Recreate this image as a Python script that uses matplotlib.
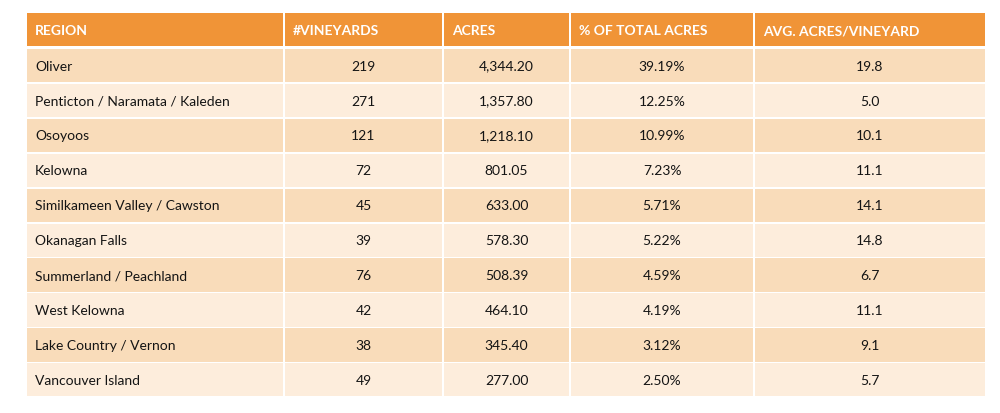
import matplotlib.pyplot as plt
from matplotlib.patches import Rectangle

# table content
columns = ['REGION', '#VINEYARDS', 'ACRES', '% OF TOTAL ACRES', 'AVG. ACRES/VINEYARD']
regions = ['Oliver', 'Penticton / Naramata / Kaleden', 'Osoyoos', 'Kelowna',
           'Similkameen Valley / Cawston', 'Okanagan Falls', 'Summerland / Peachland',
           'West Kelowna', 'Lake Country / Vernon', 'Vancouver Island']
vineyards = [219, 271, 121, 72, 45, 39, 76, 42, 38, 49]
acres = [4344.20, 1357.80, 1218.10, 801.05, 633.00, 578.30, 508.39, 464.10, 345.40, 277.00]
pct_total = [39.19, 12.25, 10.99, 7.23, 5.71, 5.22, 4.59, 4.19, 3.12, 2.50]
avg_acres = [19.8, 5.0, 10.1, 11.1, 14.1, 14.8, 6.7, 11.1, 9.1, 5.7]

# layout in pixels
col_edges = [27, 284, 443, 570, 754, 985]
gap = 1.8
head_top, head_bot = 13, 45.5
row_top0, row_pitch, row_gap = 49, 34.9, 1.6

orange = '#F09437'
row_colors = ['#F9DCBA', '#FDEDDC']
txt_color = '#141414'

plt.rcParams['font.family'] = ['Lato', 'DejaVu Sans']

fig = plt.figure(figsize=(10, 4.13), dpi=100)
ax = fig.add_axes([0, 0, 1, 1])
ax.set_xlim(0, 1000)
ax.set_ylim(413, 0)
ax.axis('off')

# header
for j, name in enumerate(columns):
    x0 = col_edges[j] + (gap / 2 if j > 0 else 0)
    x1 = col_edges[j + 1] - (gap / 2 if j < len(columns) - 1 else 0)
    ax.add_patch(Rectangle((x0, head_top), x1 - x0, head_bot - head_top,
                           facecolor=orange, edgecolor='none'))
    ax.text(x0 + 8, (head_top + head_bot) / 2 + 2, name, color='white',
            fontsize=10, fontweight='bold', ha='left', va='center')

# body
for i, reg in enumerate(regions):
    top = row_top0 + i * row_pitch
    h = row_pitch - row_gap
    cells = [reg, f'{vineyards[i]}', f'{acres[i]:,.2f}',
             f'{pct_total[i]:.2f}%', f'{avg_acres[i]:.1f}']
    for j, val in enumerate(cells):
        x0 = col_edges[j] + (gap / 2 if j > 0 else 0)
        x1 = col_edges[j + 1] - (gap / 2 if j < len(columns) - 1 else 0)
        ax.add_patch(Rectangle((x0, top), x1 - x0, h,
                               facecolor=row_colors[i % 2], edgecolor='none'))
        if j == 0:
            ax.text(x0 + 8, top + h / 2 + 1, val, color=txt_color,
                    fontsize=10, ha='left', va='center')
        else:
            ax.text((x0 + x1) / 2, top + h / 2 + 1, val, color=txt_color,
                    fontsize=10, ha='center', va='center')

fig.savefig('out.png', dpi=100)
